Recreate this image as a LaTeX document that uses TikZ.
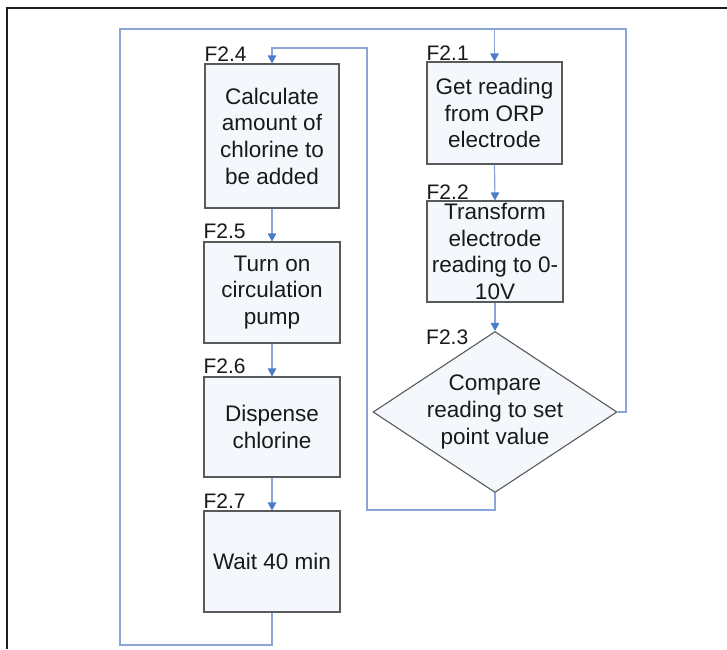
\documentclass[tikz,border=0pt]{standalone}
\usepackage{fontspec}
\setmainfont{Liberation Sans}
\usetikzlibrary{arrows.meta,shapes.geometric,calc}

\definecolor{boxfill}{HTML}{F4F8FD}
\definecolor{boxline}{HTML}{5A5A5A}
\definecolor{linkline}{HTML}{8AA6D6}
\definecolor{tipblue}{HTML}{4A7CC8}
\definecolor{frameline}{HTML}{1E1E1E}

\tikzset{
  stepbox/.style={draw=boxline, fill=boxfill, line width=1.1pt, rectangle, inner sep=0pt},
  decision/.style={draw=boxline, fill=boxfill, line width=1.1pt, diamond, inner sep=0pt,
                   minimum width=244pt, minimum height=161pt},
  txt/.style={align=center, inner sep=0pt, font=\fontsize{22.5}{26.7}\selectfont, text=black!90},
  lab/.style={inner sep=0pt, font=\fontsize{21}{24}\selectfont, text=black!90},
  link/.style={draw=linkline, line width=1.2pt},
  arrowlink/.style={link, -{Triangle[length=8pt,width=8.5pt,color=tipblue]}},
}

\begin{document}
\begin{tikzpicture}[x=1pt, y=-1pt]
\useasboundingbox (0,0) rectangle (727,649);

% outer frame (top and left edges visible)
\draw[frameline, line width=2pt] (6,8) -- (727,8);
\draw[frameline, line width=2pt] (7,8) -- (7,649);

% right column: measure and compare
\node[stepbox, minimum width=135pt, minimum height=102pt] (n21) at (494.5,113) {};
\node[txt] at (n21.center) {Get reading\\from ORP\\electrode};
\node[stepbox, minimum width=136pt, minimum height=101pt] (n22) at (495,251.5) {};
\node[txt] at (n22.center) {Transform\\electrode\\reading to 0-\\10V};
\node[decision] (n23) at (495,412) {};
\node[txt] at (n23.center) {Compare\\reading to set\\point value};

% left column: dosing sequence
\node[stepbox, minimum width=134pt, minimum height=144pt] (n24) at (272,136) {};
\node[txt] at (n24.center) {Calculate\\amount of\\chlorine to\\be added};
\node[stepbox, minimum width=136pt, minimum height=101pt] (n25) at (272,292.5) {};
\node[txt] at (n25.center) {Turn on\\circulation\\pump};
\node[stepbox, minimum width=136pt, minimum height=100pt] (n26) at (272,427) {};
\node[txt] at (n26.center) {Dispense\\chlorine};
\node[stepbox, minimum width=136pt, minimum height=101pt] (n27) at (272,561.5) {};
\node[txt] at (n27.center) {Wait 40 min};

% step numbers
\node[lab, anchor=base west] (l21) at ([yshift=1pt]n21.north west) {F2.1};
\node[lab, anchor=base west] (l22) at ([yshift=1pt]n22.north west) {F2.2};
\node[lab, anchor=base west] (l23) at (426,344) {F2.3};
\node[lab, anchor=base west] (l24) at ([yshift=2pt]n24.north west) {F2.4};
\node[lab, anchor=base west] (l25) at ([yshift=3pt]n25.north west) {F2.5};
\node[lab, anchor=base west] (l26) at ([yshift=3pt]n26.north west) {F2.6};
\node[lab, anchor=base west] (l27) at ([yshift=2pt]n27.north west) {F2.7};

% loop corners
\coordinate (bl) at (120,645);
\coordinate (tl) at (120,29);
\coordinate (tr) at (626,29);
\coordinate (mb) at (367,510);
\coordinate (mt) at (367,48);

% straight flow arrows
\draw[arrowlink] (n21.south) -- (n22.north);
\draw[arrowlink] (n22.south) -- (n23.north);
\draw[arrowlink] (n24.south) -- (n25.north);
\draw[arrowlink] (n25.south) -- (n26.north);
\draw[arrowlink] (n26.south) -- (n27.north);

% return from the wait step to the measurement
\draw[arrowlink] (n27.south) |- (bl) -- (tl) -| (n21.north);
% set point reached: back to the top
\draw[link] (n23.east) -| (tr) -- (n21.north |- tr);
% set point not reached: dose chlorine
\draw[arrowlink] (n23.south) |- (mb) -- (mt) -| (n24.north);
\end{tikzpicture}
\end{document}
